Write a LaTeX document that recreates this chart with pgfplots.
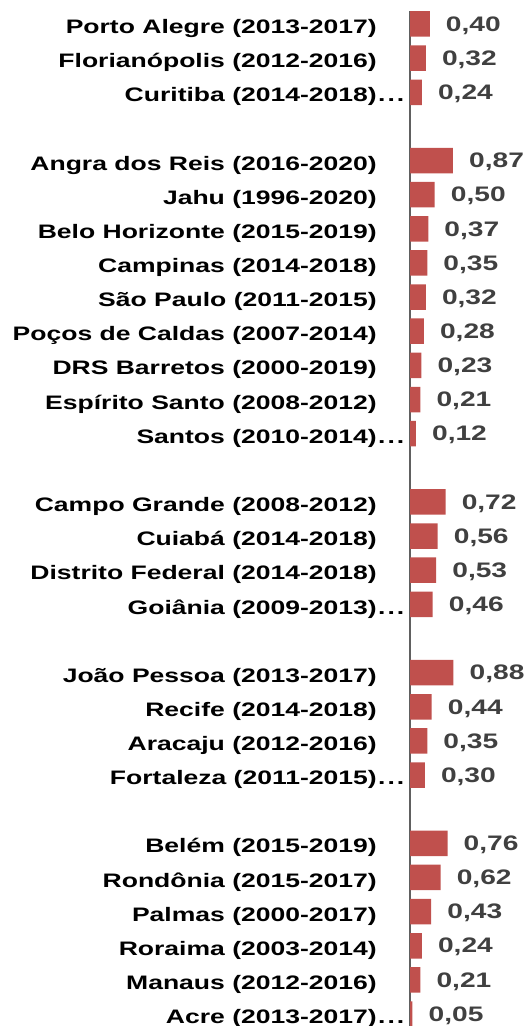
\documentclass[border=0pt]{standalone}
\usepackage{fontspec}
\setmainfont{Liberation Sans}
\usepackage{graphicx}
\usepackage{pgfplots}
\pgfplotsset{compat=1.18}
\definecolor{barred}{HTML}{C0504D}
\definecolor{valgray}{HTML}{404040}
\definecolor{axgray}{HTML}{606060}
\newcommand\lab[1]{\scalebox{1.36}[1]{#1}}
\newcommand\val[1]{\scalebox{1.34}[1]{#1}}
\newcommand\dd{\rlap{\kern1pt.\kern1.5pt.\kern1.5pt.}}
\pgfplotstableread{
pos val
0 0.40
1 0.32
2 0.24
4 0.87
5 0.50
6 0.37
7 0.35
8 0.32
9 0.28
10 0.23
11 0.21
12 0.12
14 0.72
15 0.56
16 0.53
17 0.46
19 0.88
20 0.44
21 0.35
22 0.30
24 0.76
25 0.62
26 0.43
27 0.24
28 0.21
29 0.05
}\datatable
\begin{document}
\begin{tikzpicture}
\begin{axis}[
  name=ax,
  scale only axis,
  width=118pt, height=1015pt,
  xmin=0, xmax=2.389,
  ymin=-0.38, ymax=29.35,
  y dir=reverse,
  clip=false,
  hide x axis,
  axis y line*=left,
  y axis line style={draw=axgray, line width=1.3pt},
  major tick length=0pt,
  ytick={0,1,2,4,5,6,7,8,9,10,11,12,14,15,16,17,19,20,21,22,24,25,26,27,28,29},
  yticklabels={
    \lab{Porto Alegre (2013-2017)},
    \lab{Florianópolis (2012-2016)},
    \lab{Curitiba (2014-2018)\dd},
    \lab{Angra dos Reis (2016-2020)},
    \lab{Jahu (1996-2020)},
    \lab{Belo Horizonte (2015-2019)},
    \lab{Campinas (2014-2018)},
    \lab{São Paulo (2011-2015)},
    \lab{Poços de Caldas (2007-2014)},
    \lab{DRS Barretos (2000-2019)},
    \lab{Espírito Santo (2008-2012)},
    \lab{Santos (2010-2014)\dd},
    \lab{Campo Grande (2008-2012)},
    \lab{Cuiabá (2014-2018)},
    \lab{Distrito Federal (2014-2018)},
    \lab{Goiânia (2009-2013)\dd},
    \lab{João Pessoa (2013-2017)},
    \lab{Recife (2014-2018)},
    \lab{Aracaju (2012-2016)},
    \lab{Fortaleza (2011-2015)\dd},
    \lab{Belém (2015-2019)},
    \lab{Rondônia (2015-2017)},
    \lab{Palmas (2000-2017)},
    \lab{Roraima (2003-2014)},
    \lab{Manaus (2012-2016)},
    \lab{Acre (2013-2017)\dd}
  },
  yticklabel style={anchor=east, inner sep=0pt, xshift=-33pt, yshift=-4.5pt,
    font=\fontsize{19.5}{23}\selectfont\bfseries, text=black},
  xbar,
  bar width=25.5pt,
  nodes near coords={\val{\pgfmathprintnumber[fixed,fixed zerofill,precision=2,use comma,assume math mode=true]{\pgfplotspointmeta}}},
  every node near coord/.append style={anchor=west, inner sep=0pt, xshift=16pt, yshift=-1.5pt,
    font=\fontsize{21}{25}\selectfont\bfseries, text=valgray},
]
\addplot[fill=barred, draw=none] table[x=val, y=pos] {\datatable};
\end{axis}
\pgfresetboundingbox
\path ([xshift=-410pt]ax.south west) rectangle ([yshift=11pt]ax.north east);
\end{tikzpicture}
\end{document}
